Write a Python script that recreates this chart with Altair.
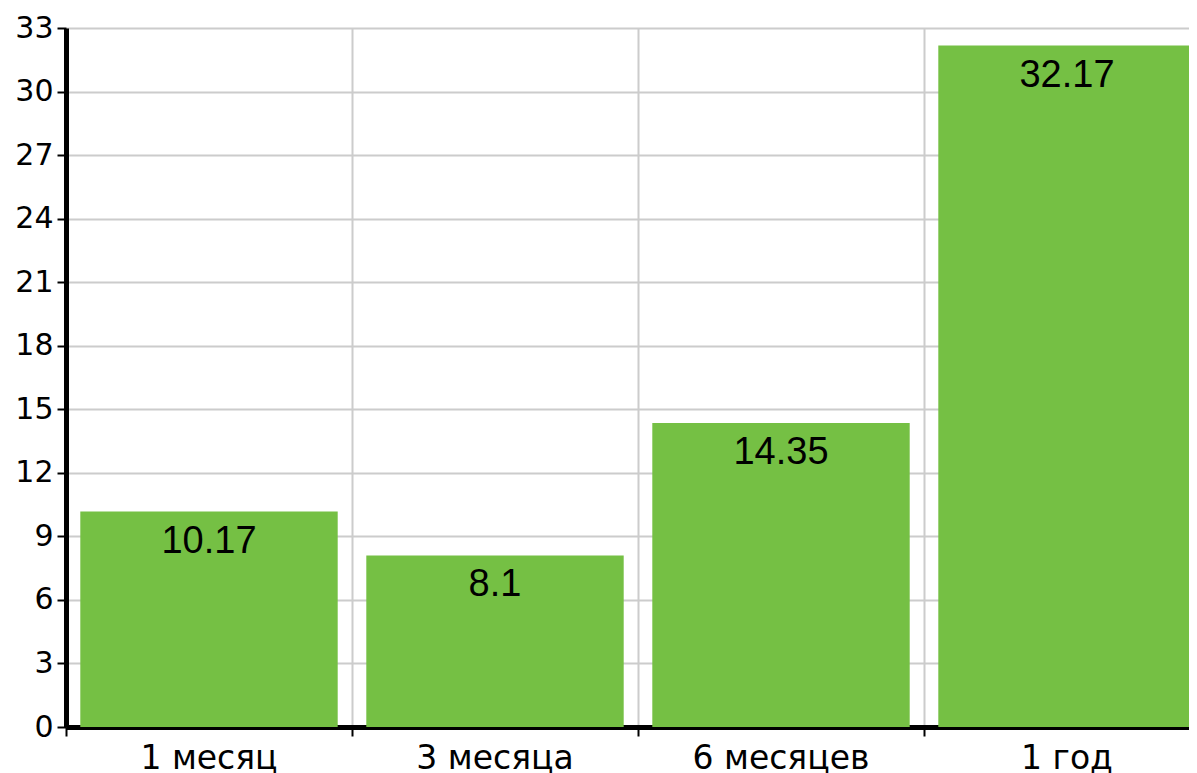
import altair as alt
import pandas as pd

categories = ["1 месяц", "3 месяца", "6 месяцев", "1 год"]
values = [10.17, 8.1, 14.35, 32.17]
y_ticks = [0, 3, 6, 9, 12, 15, 18, 21, 24, 27, 30, 33]

df = pd.DataFrame({"cat": categories, "val": values})

x = alt.X("cat:N", sort=categories, title=None,
          scale=alt.Scale(paddingInner=0, paddingOuter=0, range=[0, 1144]),
          axis=alt.Axis(bandPosition=0, grid=True, gridColor="#cccccc", gridWidth=2,
                        domainColor="black", domainWidth=5, tickColor="black", tickWidth=2,
                        tickSize=9, labelAngle=0, labelFont="DejaVu Sans", labelFontSize=33,
                        labelColor="black", labelPadding=6))
y = alt.Y("val:Q", title=None,
          scale=alt.Scale(domain=[0, 33], nice=False),
          axis=alt.Axis(values=y_ticks, grid=True, gridColor="#cccccc", gridWidth=2,
                        domainColor="black", domainWidth=5, tickColor="black", tickWidth=2,
                        tickSize=9, labelFont="DejaVu Sans", labelFontSize=30,
                        labelColor="black", labelPadding=4))

bars = alt.Chart(df).mark_bar(color="#75C044", width=alt.RelativeBandSize(0.9)).encode(x=x, y=y)
labels = alt.Chart(df).mark_text(font="Liberation Sans", fontSize=38, color="black",
                                 baseline="middle", dy=30).encode(
    x=alt.X("cat:N", sort=categories), y="val:Q", text=alt.Text("val:Q"))

chart = (bars + labels).properties(
    width=1123, height=699,
    autosize=alt.AutoSizeParams(type="none"),
    padding={"left": 58, "top": 20, "right": 0, "bottom": 46}
).configure_view(stroke=None)

chart.save("out.html", embed_options={"renderer": "svg", "actions": False})
